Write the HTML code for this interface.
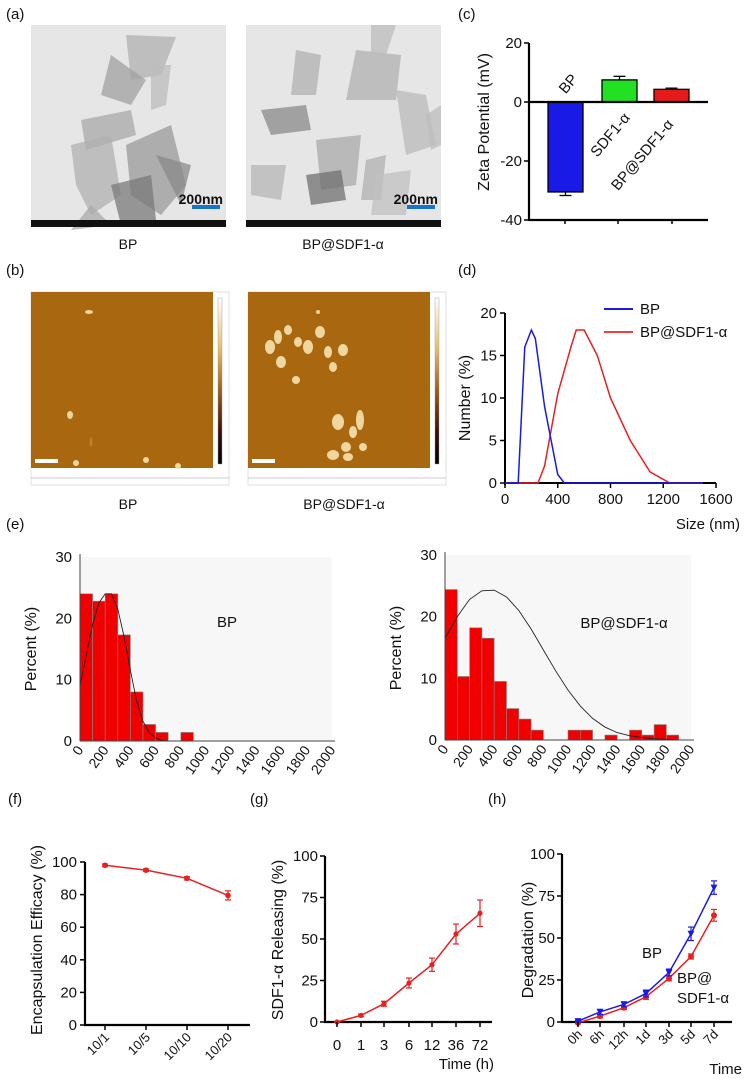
<!DOCTYPE html>
<html><head><meta charset="utf-8"><style>
html,body{margin:0;padding:0;background:#fff;}
svg{display:block;font-family:"Liberation Sans",Arial,sans-serif;}
</style></head><body>
<svg id="fig" width="744" height="1079" viewBox="0 0 744 1079" xmlns="http://www.w3.org/2000/svg">
<defs>
<linearGradient id="cbar" x1="0" y1="0" x2="0" y2="1">
<stop offset="0" stop-color="#ffffff"/><stop offset="0.3" stop-color="#e8c070"/><stop offset="0.55" stop-color="#a0601a"/><stop offset="0.8" stop-color="#3a1008"/><stop offset="1" stop-color="#000"/>
</linearGradient>
</defs>
</svg>
<script>
// ---- data ----
const zetaCats = ["BP","SDF1-α","BP@SDF1-α"];
const zetaVals = [-30.5, 7.5, 4.3];
const zetaErr = [1.2, 1.2, 0.4];
const zetaTicks = [20, 0, -20, -40];

const dlsBPx = [0,100,150,200,230,300,400,450,1500];
const dlsBPy = [0,0,16,18,17,9,1,0,0];
const dlsSDFx = [0,250,300,400,500,540,600,700,800,950,1100,1250,1500];
const dlsSDFy = [0,0,2,10.5,16,18,18,15,10,5,1.3,0,0];
const dlsXTicks = [0,400,800,1200,1600];
const dlsYTicks = [0,5,10,15,20];

const histBP = [24,22.8,24,17.3,8,2.7,1.4,0,1.4];
const histBPcurveX = [0,50,100,150,200,250,300,350,400,450,500,550,600,650,700];
const histBPcurveY = [9,14,19,22.5,24,24,21.5,17,11.5,6.5,3.2,1.4,0.5,0.1,0];
const histSDF = [24.4,10.3,18.2,16.5,9.5,5.1,3.4,1.6,0,0,1.6,1.6,0,0.8,0,1.6,0.8,2.5,0.8];
const histSDFcurveX = [0,100,200,300,400,500,600,700,800,900,1000,1100,1200,1300,1400,1500,1600,1700,1800,1900];
const histSDFcurveY = [16.5,20,22.8,24.2,24.3,23.2,21,18,14.6,11.2,8.1,5.5,3.5,2.1,1.2,0.7,0.4,0.2,0.1,0];
const histXTicks = [0,200,400,600,800,1000,1200,1400,1600,1800,2000];
const histYTicks = [0,10,20,30];

const encCats = ["10/1","10/5","10/10","10/20"];
const encVals = [98,95,90,79.5];
const encErr = [0.8,0.8,1,2.8];
const encYTicks = [0,20,40,60,80,100];

const relCats = ["0","1","3","6","12","36","72"];
const relVals = [0,4,11,23.5,34.5,53,65.5];
const relErr = [0,0.8,1.5,3,4,6,8];
const pctTicks = [0,25,50,75,100];

const degCats = ["0h","6h","12h","1d","3d","5d","7d"];
const degBP = [0.5,6,10.5,17,29.5,52.5,80];
const degBPerr = [0.5,1.5,1.5,2,2,4,4];
const degSDF = [-0.5,3.5,8.5,15,26,39,63.5];
const degSDFerr = [0.5,1,1,1.5,1.5,1.5,3.5];

// ---- helpers ----
const svg = document.getElementById('fig');
const NS = 'http://www.w3.org/2000/svg';
function mk(tag, attrs, name, parent){
  const el = document.createElementNS(NS, tag);
  for (const k in attrs) el.setAttribute(k, attrs[k]);
  
  
  (parent||svg).appendChild(el);
  return el;
}
function txt(x,y,s,size,name,extra){
  const a = Object.assign({x:x,y:y,'font-size':size,fill:'#111'}, extra||{});
  const t = mk('text', a, name);
  t.textContent = s;
  return t;
}
function line(x1,y1,x2,y2,w,c,name){ return mk('line',{x1:x1,y1:y1,x2:x2,y2:y2,stroke:c||'#000','stroke-width':w||1},name); }
function lin(d0,d1,r0,r1){ return v => r0 + (v-d0)*(r1-r0)/(d1-d0); }

// ---- panel labels ----
[["(a)",6,19],["(b)",6,275],["(c)",458,19],["(d)",458,275],["(e)",6,529],["(f)",8,804],["(g)",250,804],["(h)",488,804]].forEach(p=>{
  txt(p[1],p[2],p[0],15,'panel-label');
});

// ---- (a) TEM images ----
function tem(x0, name, flakes){
  const g = mk('g',{},name);
  mk('rect',{x:x0,y:25,width:195,height:202,fill:'#e6e6e6'},'tem-background',g);
  flakes.forEach(f=>{
    const pts=[]; for(let i=0;i<f[0].length;i+=2) pts.push((f[0][i]+x0)+','+(f[0][i+1]+25));
    mk('polygon',{points:pts.join(' '),fill:f[1],opacity:0.75},'tem-flake',g);
  });
  mk('rect',{x:x0,y:220,width:195,height:7,fill:'#111'},'tem-info-bar',g);
  mk('rect',{x:x0+161,y:205,width:28,height:4,fill:'#1a73c8'},'scale-bar',g);
  txt(x0+192,204,'200nm',14,'scale-bar-label',{'font-weight':'bold','text-anchor':'end'});
}
tem(31,'tem-bp',[
 [[95,10,145,12,130,50,100,55],'#b0b0b0'],
 [[80,30,115,55,100,80,70,70],'#a0a0a0'],
 [[50,95,100,85,105,110,55,125],'#a8a8a8'],
 [[95,120,140,100,155,160,130,190,100,170],'#9a9a9a'],
 [[40,120,80,110,90,170,60,190,45,160],'#b0b0b0'],
 [[80,160,120,150,125,195,90,200],'#7a7a7a'],
 [[125,130,160,140,150,180],'#8a8a8a'],
 [[60,180,80,200,40,205],'#aaaaaa'],
 [[120,40,140,40,135,80,120,85],'#bcbcbc']
]);
tem(246,'tem-bp-sdf1',[
 [[50,25,75,30,70,70,45,70],'#b0b0b0'],
 [[110,25,155,30,150,75,100,75],'#b0b0b0'],
 [[125,0,150,0,140,30,125,35],'#bcbcbc'],
 [[15,85,60,80,65,105,25,110],'#8a8a8a'],
 [[150,65,180,70,190,120,160,130],'#bababa'],
 [[180,90,195,80,195,120,185,125],'#bcbcbc'],
 [[70,115,115,110,110,160,75,165],'#aaaaaa'],
 [[60,150,95,145,100,175,65,180],'#707070'],
 [[120,135,140,130,135,175,115,175],'#b0b0b0'],
 [[5,140,40,140,35,175,5,170],'#b5b5b5'],
 [[130,150,165,145,160,190,125,190],'#c0c0c0']
]);
txt(128,249,'BP',14,'tem-bp-caption',{'text-anchor':'middle'});
txt(343,249,'BP@SDF1-α',14,'tem-bp-sdf1-caption',{'text-anchor':'middle'});

// ---- (b) AFM images ----
function afm(x0,name,blobs){
  const g = mk('g',{},name);
  mk('rect',{x:x0,y:292,width:198,height:193,fill:'#fff',stroke:'#ccc','stroke-width':0.6},'afm-frame',g);
  mk('rect',{x:x0,y:292,width:182,height:176,fill:'#a9670f'},'afm-image',g);
  mk('rect',{x:x0+187,y:298,width:4,height:166,fill:'url(#cbar)',stroke:'#999','stroke-width':0.4},'afm-colorbar',g);
  blobs.forEach(b=>{ mk('ellipse',{cx:x0+b[0],cy:292+b[1],rx:b[2],ry:b[3],fill:b[4]||'#f0d7a0'},'afm-particle',g); });
  mk('rect',{x:x0+4,y:459,width:23,height:4,fill:'#fff'},'afm-scale-bar',g);
  line(x0,478,x0+198,478,0.5,'#999','afm-strip-line');
}
afm(31,'afm-bp',[[58,20,4,2],[39,123,3,4],[45,171,3,3],[115,168,3,3],[147,174,3,3],[60,150,1.5,5,'#b88030']]);
afm(248,'afm-bp-sdf1',[[30,45,4,7],[40,38,4,5],[22,55,5,7],[33,70,5,6],[50,50,4,5],[60,55,5,7],[72,40,5,6],[80,60,4,6],[95,58,5,6],[85,75,4,5],[48,88,4,4],[90,130,6,8],[105,140,4,6],[112,128,4,10],[115,155,4,4],[98,155,5,5],[85,163,6,5],[100,165,5,4],[70,20,2,2]]);
txt(128,509,'BP',14,'afm-bp-caption',{'text-anchor':'middle'});
txt(344,509,'BP@SDF1-α',14,'afm-bp-sdf1-caption',{'text-anchor':'middle'});

// ---- (c) zeta bar chart ----
(function(){
  const y = lin(0,20,102,43);
  const xs = [548,602,654], bw=35;
  const colors=['#1a1ae6','#22e022','#e61a1a'];
  zetaVals.forEach((v,i)=>{
    const yv=y(v), y0=y(0);
    mk('rect',{x:xs[i],y:Math.min(yv,y0),width:bw,height:Math.abs(yv-y0),fill:colors[i],stroke:'#000','stroke-width':1.3},'zeta-bar-'+i);
    const ye=y(v+Math.sign(v)*zetaErr[i]);
    line(xs[i]+bw/2,yv,xs[i]+bw/2,ye,1.3,'#000','zeta-error-bar');
    line(xs[i]+bw/2-6,ye,xs[i]+bw/2+6,ye,1.3,'#000','zeta-error-cap');
  });
  line(529,y(20),529,y(-40)+1,2.2,'#000','zeta-y-axis');
  line(529,y(0),708,y(0),2.2,'#000','zeta-zero-line');
  line(529,y(-40),708,y(-40),2.2,'#000','zeta-x-axis');
  zetaTicks.forEach(t=>{ line(524,y(t),529,y(t),1.5,'#000','zeta-y-tick'); txt(522,y(t)+5,String(t),15,'zeta-y-tick-label',{'text-anchor':'end'}); });
  [565,618,672].forEach(x=>line(x,y(-40),x,y(-40)+4,1.5,'#000','zeta-x-tick'));
  txt(0,0,'Zeta Potential (mV)',16,'zeta-y-axis-title',{'text-anchor':'middle',transform:'translate(489,122) rotate(-90)'});
  txt(0,0,zetaCats[0],15,'zeta-label-bp',{'text-anchor':'middle',transform:'translate(572,87) rotate(-50)'});
  txt(0,0,zetaCats[1],15,'zeta-label-sdf1',{'text-anchor':'middle',transform:'translate(614,138) rotate(-50)'});
  txt(0,0,zetaCats[2],15,'zeta-label-bp-sdf1',{'text-anchor':'middle',transform:'translate(646,158) rotate(-50)'});
})();

// ---- (d) DLS ----
(function(){
  const x = lin(0,1600,505,716), y = lin(0,20,483,313);
  line(505,313,505,485,2,'#000','dls-y-axis');
  line(504,483,716,483,2,'#000','dls-x-axis');
  dlsYTicks.forEach(t=>{ line(500,y(t),505,y(t),1.5,'#000','dls-y-tick'); txt(497,y(t)+5,String(t),15,'dls-y-tick-label',{'text-anchor':'end'}); });
  dlsXTicks.forEach(t=>{ line(x(t),483,x(t),488,1.5,'#000','dls-x-tick'); txt(x(t),504,String(t),15,'dls-x-tick-label',{'text-anchor':'middle'}); });
  mk('polyline',{points:dlsSDFx.map((v,i)=>x(v)+','+y(dlsSDFy[i])).join(' '),fill:'none',stroke:'#e82020','stroke-width':1.5},'dls-bp-sdf1-line');
  mk('polyline',{points:dlsBPx.map((v,i)=>x(v)+','+y(dlsBPy[i])).join(' '),fill:'none',stroke:'#1a1ae6','stroke-width':1.5},'dls-bp-line');
  txt(0,0,'Number (%)',16,'dls-y-axis-title',{'text-anchor':'middle',transform:'translate(470,398) rotate(-90)'});
  txt(740,529,'Size (nm)',15,'dls-x-axis-title',{'text-anchor':'end'});
  line(604,309,633,309,2,'#1a1ae6','legend-bp-swatch');
  txt(640,314,'BP',15,'legend-bp-label');
  line(604,332,633,332,2,'#f04040','legend-bp-sdf1-swatch');
  txt(640,337,'BP@SDF1-α',15,'legend-bp-sdf1-label');
})();

// ---- (e) histograms ----
function hist(ax, y0, yTop, xEnd, bins, cx, cy, label, lx, ly, name){
  const x = lin(0,2000,ax,xEnd), y = lin(0,30,y0,yTop);
  mk('rect',{x:ax,y:yTop,width:xEnd-ax,height:y0-yTop,fill:'#f7f7f7'},name+'-plot-bg');
  bins.forEach((v,i)=>{ if(v>0) mk('rect',{x:x(i*100),y:y(v),width:x(100)-x(0),height:y0-y(v),fill:'#f00000',stroke:'#888','stroke-width':0.6},name+'-bar'); });
  mk('polyline',{points:cx.map((v,i)=>x(v)+','+y(cy[i])).join(' '),fill:'none',stroke:'#222','stroke-width':0.9},name+'-fit-curve');
  line(ax,yTop-3,ax,y0,1,'#444',name+'-y-axis');
  line(ax,y0,xEnd+3,y0,1,'#444',name+'-x-axis');
  histYTicks.forEach(t=>txt(ax-8,y(t)+5,String(t),15,name+'-y-tick-label',{'text-anchor':'end'}));
  histXTicks.forEach(t=>txt(0,0,String(t),14,name+'-x-tick-label',{'text-anchor':'end',transform:'translate('+(x(t)+4)+','+(y0+9)+') rotate(-55)'}));
  txt(0,0,'Percent (%)',16,name+'-y-axis-title',{'text-anchor':'middle',transform:'translate('+(ax-44)+','+(y0-92)+') rotate(-90)'});
  txt(lx,ly,label,15,name+'-label',{'text-anchor':'middle'});
}
hist(80,741,557,332,histBP,histBPcurveX,histBPcurveY,'BP',227,627,'hist-bp');
hist(445,740,555,691,histSDF,histSDFcurveX,histSDFcurveY,'BP@SDF1-α',624,628,'hist-bp-sdf1');

// ---- (f) encapsulation ----
(function(){
  const y = lin(0,100,1025,862); const xs=[105,146,187,228];
  line(85,862,85,1026,2.2,'#000','enc-y-axis');
  line(84,1025,250,1025,2.2,'#000','enc-x-axis');
  encYTicks.forEach(t=>{ line(80,y(t),85,y(t),1.5,'#000','enc-y-tick'); txt(77,y(t)+5,String(t),15,'enc-y-tick-label',{'text-anchor':'end'}); });
  mk('polyline',{points:encVals.map((v,i)=>xs[i]+','+y(v)).join(' '),fill:'none',stroke:'#e82020','stroke-width':1.5},'enc-line');
  encVals.forEach((v,i)=>{
    line(xs[i],y(v-encErr[i]),xs[i],y(v+encErr[i]),1.2,'#e82020','enc-error-bar');
    line(xs[i]-3,y(v+encErr[i]),xs[i]+3,y(v+encErr[i]),1.2,'#e82020','enc-error-cap');
    line(xs[i]-3,y(v-encErr[i]),xs[i]+3,y(v-encErr[i]),1.2,'#e82020','enc-error-cap');
    mk('circle',{cx:xs[i],cy:y(v),r:2.8,fill:'#e82020'},'enc-point');
    line(xs[i],1025,xs[i],1030,1.5,'#000','enc-x-tick');
    txt(0,0,encCats[i],13,'enc-x-tick-label',{'text-anchor':'end',transform:'translate('+(xs[i]+5)+',1038) rotate(-45)'});
  });
  txt(0,0,'Encapsulation Efficacy (%)',16,'enc-y-axis-title',{'text-anchor':'middle',transform:'translate(42,940) rotate(-90)'});
})();

// ---- (g) release ----
(function(){
  const y = lin(0,100,1022,856); const xs=[337,361,384,409,432,456,480];
  line(325,856,325,1023,2.2,'#000','rel-y-axis');
  line(324,1022,492,1022,2.2,'#000','rel-x-axis');
  pctTicks.forEach(t=>{ line(320,y(t),325,y(t),1.5,'#000','rel-y-tick'); txt(318,y(t)+5,String(t),15,'rel-y-tick-label',{'text-anchor':'end'}); });
  mk('polyline',{points:relVals.map((v,i)=>xs[i]+','+y(v)).join(' '),fill:'none',stroke:'#e82020','stroke-width':1.5},'rel-line');
  relVals.forEach((v,i)=>{
    line(xs[i],y(v-relErr[i]),xs[i],y(v+relErr[i]),1.2,'#e82020','rel-error-bar');
    line(xs[i]-3,y(v+relErr[i]),xs[i]+3,y(v+relErr[i]),1.2,'#e82020','rel-error-cap');
    line(xs[i]-3,y(v-relErr[i]),xs[i]+3,y(v-relErr[i]),1.2,'#e82020','rel-error-cap');
    mk('circle',{cx:xs[i],cy:y(v),r:2.6,fill:'#e82020'},'rel-point');
    line(xs[i],1022,xs[i],1027,1.5,'#000','rel-x-tick');
    txt(xs[i],1050,relCats[i],15,'rel-x-tick-label',{'text-anchor':'middle'});
  });
  txt(494,1069,'Time (h)',15,'rel-x-axis-title',{'text-anchor':'end'});
  txt(0,0,'SDF1-α Releasing (%)',16,'rel-y-axis-title',{'text-anchor':'middle',transform:'translate(283,940) rotate(-90)'});
})();

// ---- (h) degradation ----
(function(){
  const y = lin(0,100,1022,854); const xs=[578,600,624,646,669,691,714];
  line(562,854,562,1023,2.2,'#000','deg-y-axis');
  line(561,1022,732,1022,2.2,'#000','deg-x-axis');
  pctTicks.forEach(t=>{ line(557,y(t),562,y(t),1.5,'#000','deg-y-tick'); txt(555,y(t)+5,String(t),15,'deg-y-tick-label',{'text-anchor':'end'}); });
  function series(vals,errs,col,marker,name){
    mk('polyline',{points:vals.map((v,i)=>xs[i]+','+y(v)).join(' '),fill:'none',stroke:col,'stroke-width':1.5},name+'-line');
    vals.forEach((v,i)=>{
      line(xs[i],y(v-errs[i]),xs[i],y(v+errs[i]),1.2,col,name+'-error-bar');
      line(xs[i]-3,y(v+errs[i]),xs[i]+3,y(v+errs[i]),1.2,col,name+'-error-cap');
      line(xs[i]-3,y(v-errs[i]),xs[i]+3,y(v-errs[i]),1.2,col,name+'-error-cap');
      if(marker==='tri'){ const cy=y(v); mk('polygon',{points:(xs[i]-3.5)+','+(cy-3)+' '+(xs[i]+3.5)+','+(cy-3)+' '+xs[i]+','+(cy+3.5),fill:col},name+'-point'); }
      else mk('circle',{cx:xs[i],cy:y(v),r:3,fill:col},name+'-point');
    });
  }
  series(degSDF,degSDFerr,'#e82020','circle','deg-bp-sdf1');
  series(degBP,degBPerr,'#1a1ae6','tri','deg-bp');
  xs.forEach((x,i)=>{ line(x,1022,x,1027,1.5,'#000','deg-x-tick'); txt(0,0,degCats[i],13,'deg-x-tick-label',{'text-anchor':'end',transform:'translate('+(x+5)+',1035) rotate(-45)'}); });
  txt(652,958,'BP',15,'deg-label-bp',{'text-anchor':'middle'});
  txt(677,983,'BP@',15,'deg-label-bp-sdf1-1');
  txt(677,1003,'SDF1-α',15,'deg-label-bp-sdf1-2');
  txt(742,1074,'Time',15,'deg-x-axis-title',{'text-anchor':'end'});
  txt(0,0,'Degradation (%)',16,'deg-y-axis-title',{'text-anchor':'middle',transform:'translate(533,940) rotate(-90)'});
})();
</script>
</body></html>
